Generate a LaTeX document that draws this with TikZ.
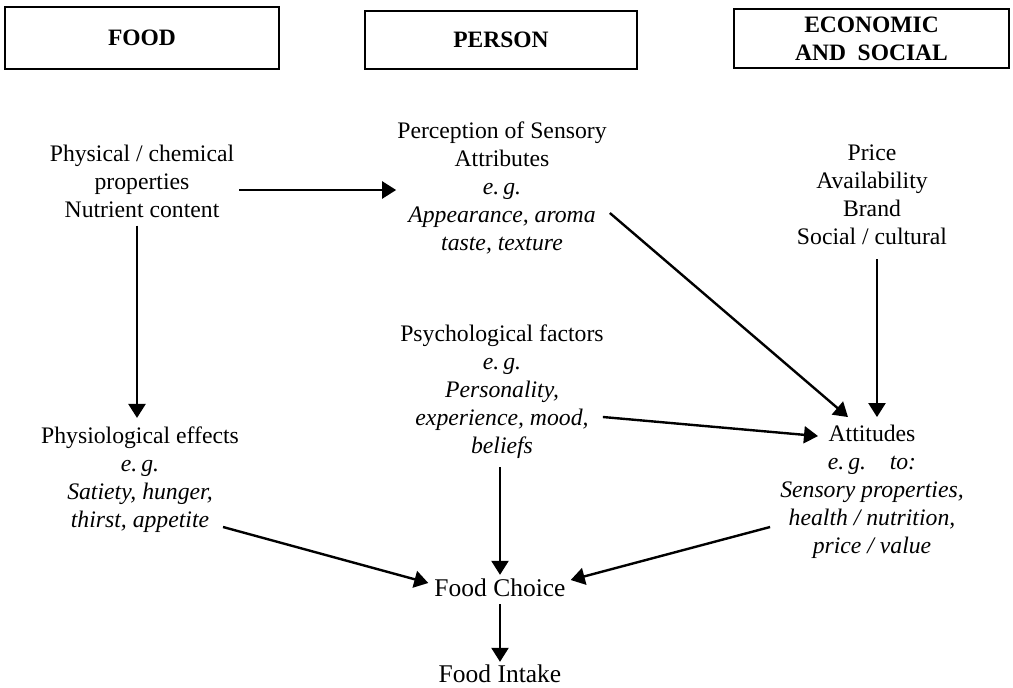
\documentclass[tikz,border=0pt]{standalone}
\usepackage{fontspec}
\setmainfont{Liberation Serif}
\usetikzlibrary{arrows.meta,calc}
\begin{document}
\begin{tikzpicture}[x=1pt,y=-1pt,
  head/.style={draw,line width=1.8pt,inner sep=0pt,align=center,
    font=\fontsize{23.5}{28}\selectfont\bfseries},
  txt/.style={align=center,inner sep=1pt,font=\fontsize{23.7}{28}\selectfont},
  big/.style={inner sep=1pt,font=\fontsize{25.5}{30}\selectfont},
  arr/.style={line width=2.4pt,-{Triangle[length=14pt,width=17pt]}}]
\useasboundingbox (0,0) rectangle (1013,688);

% column headings
\node[head,minimum width=274pt,minimum height=62pt] (hfood) at (142,38) {FOOD};
\node[head,minimum width=272pt,minimum height=58pt] (hperson) at (501,40) {PERSON};
\node[head,minimum width=275pt,minimum height=59pt] (hecon) at (871.5,38.5) {ECONOMIC\\AND\enspace SOCIAL};

% factors
\node[txt] (phys) at (142,181) {Physical / chemical\\properties\\Nutrient content};
\node[txt] (perc) at (502,188) {Perception of Sensory\\Attributes\\\textit{e.\,g.}\\\textit{Appearance, aroma}\\\textit{taste, texture}};
\node[txt] (price) at (872,195) {Price\\Availability\\Brand\\Social / cultural};
\node[txt] (psych) at (502,392) {Psychological factors\\\textit{e.\,g.}\\\textit{Personality,}\\\textit{experience, mood,}\\\textit{beliefs}};
\node[txt] (physio) at (140,480) {Physiological effects\\\textit{e.\,g.}\\\textit{Satiety, hunger,}\\\textit{thirst, appetite}};
\node[txt] (att) at (872,492) {Attitudes\\\textit{e.\,g.\quad to:}\\\textit{Sensory properties,}\\\textit{health / nutrition,}\\\textit{price / value}};
\node[big] (choice) at (500,588) {Food Choice};
\node[big] (intake) at (500,674) {Food Intake};

% influences
\draw[arr] ($(phys.east)+(4,9)$) -- ($(perc.west)+(0,2)$);
\draw[arr] ($(perc.east)+(2,25)$) -- ($(att.north)+(-24,-7)$);
\draw[arr] ($(price.south)+(5,13)$) -- ($(att.north)+(5,-7)$);
\draw[arr] ($(psych.east)+(-2,25)$) -- ($(att.north)+(-54,12)$);
\draw[arr] ($(phys.south)+(-5,7)$) -- ($(physio.north)+(-3,-8)$);
\draw[arr] ($(psych.south)+(-2,7)$) -- ($(choice.north)+(0,-3)$);
\draw[arr] ($(physio.east)+(-17,47)$) -- ($(choice.west)+(-5,-5)$);
\draw[arr] ($(att.west)+(-9,35)$) -- ($(choice.east)+(4,-8)$);
\draw[arr] ($(choice.south)+(0,6)$) -- ($(intake.north)+(0,-2)$);
\end{tikzpicture}
\end{document}
